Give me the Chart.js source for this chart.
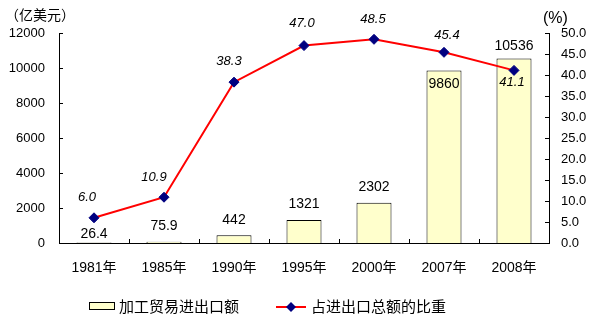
<!DOCTYPE html>
<html>
<head>
<meta charset="utf-8">
<script src="https://cdn.jsdelivr.net/npm/chart.js@4/dist/chart.umd.min.js"></script>
<style>
    html, body { margin: 0; padding: 0; background: #fff; }
    #wrap { position: relative; width: 601px; height: 328px; }
</style>
</head>
<body>
<div id="wrap"><canvas id="tradeChart" width="601" height="328"></canvas></div>
<script>
const years = ['1981年', '1985年', '1990年', '1995年', '2000年', '2007年', '2008年'];
const tradeValues = [26.4, 75.9, 442, 1321, 2302, 9860, 10536];   // 亿美元
const shareValues = [6.0, 10.9, 38.3, 47.0, 48.5, 45.4, 41.1];    // %
const leftTicks = [0, 2000, 4000, 6000, 8000, 10000, 12000];
const rightTicks = [0, 5, 10, 15, 20, 25, 30, 35, 40, 45, 50];
const barLabel = '加工贸易进出口额';
const lineLabel = '占进出口总额的比重';

const FONT = '"Liberation Sans", "Noto Sans CJK SC", sans-serif';
const CJK = '"Noto Sans CJK SC", sans-serif';

// label nudges (px) for each point, so text clears the line and bars
const barLabelDy = [-8, -16, -15, -16, -16, 14, -12];
const lineLabelOffset = [[-7, -20], [-10, -20], [-5, -21], [-2, -22], [-1, -20], [3, -17], [-2, 12]];

const inwardTicks = {
    id: 'inwardTicks',
    afterDraw(chart) {
        const ctx = chart.ctx;
        const area = chart.chartArea;
        const len = 4;
        ctx.save();
        ctx.strokeStyle = '#000';
        ctx.lineWidth = 1;
        ctx.beginPath();
        const y = chart.scales.y;
        y.ticks.forEach((t, i) => {
            const py = Math.round(y.getPixelForTick(i)) + 0.5;
            ctx.moveTo(area.left, py);
            ctx.lineTo(area.left + len, py);
        });
        const y1 = chart.scales.y1;
        y1.ticks.forEach((t, i) => {
            const py = Math.round(y1.getPixelForTick(i)) + 0.5;
            ctx.moveTo(area.right, py);
            ctx.lineTo(area.right - len, py);
        });
        const x = chart.scales.x;
        const step = (x.right - x.left) / years.length;
        for (let i = 1; i < years.length; i++) {
            const px = Math.round(x.left + step * i) + 0.5;
            ctx.moveTo(px, area.bottom);
            ctx.lineTo(px, area.bottom - len);
        }
        ctx.stroke();
        ctx.restore();
    }
};

const valueLabels = {
    id: 'valueLabels',
    afterDatasetsDraw(chart) {
        const ctx = chart.ctx;
        ctx.save();
        ctx.fillStyle = '#000';
        ctx.textAlign = 'center';
        ctx.textBaseline = 'middle';

        ctx.font = '14px ' + FONT;
        chart.getDatasetMeta(0).data.forEach((bar, i) => {
            ctx.fillText(String(tradeValues[i]), bar.x, bar.y + barLabelDy[i]);
        });

        ctx.font = 'italic 13px ' + FONT;
        chart.getDatasetMeta(1).data.forEach((pt, i) => {
            const [dx, dy] = lineLabelOffset[i];
            ctx.fillText(shareValues[i].toFixed(1), pt.x + dx, pt.y + dy);
        });
        ctx.restore();
    }
};

const extras = {
    id: 'extras',
    afterDraw(chart) {
        const ctx = chart.ctx;
        ctx.save();
        ctx.fillStyle = '#000';
        ctx.textBaseline = 'middle';

        // axis units
        ctx.font = '14px ' + CJK;
        ctx.textAlign = 'left';
        ctx.fillText('（亿美元）', 5, 15);
        ctx.font = '16px ' + FONT;
        ctx.fillText('(%)', 543, 19);

        // legend
        const ly = 306;
        ctx.fillStyle = '#FFFFCC';
        ctx.fillRect(89, 303, 25, 6);
        ctx.strokeStyle = '#000';
        ctx.lineWidth = 1;
        ctx.strokeRect(89.5, 302.5, 25, 7);
        ctx.fillStyle = '#000';
        ctx.font = '15px ' + CJK;
        ctx.fillText(barLabel, 119, ly);

        ctx.strokeStyle = '#FF0000';
        ctx.lineWidth = 2;
        ctx.beginPath();
        ctx.moveTo(276, ly + 1);
        ctx.lineTo(306, ly + 1);
        ctx.stroke();
        ctx.fillStyle = '#000080';
        ctx.beginPath();
        ctx.moveTo(291, ly + 1 - 5);
        ctx.lineTo(296, ly + 1);
        ctx.lineTo(291, ly + 1 + 5);
        ctx.lineTo(286, ly + 1);
        ctx.closePath();
        ctx.fill();
        ctx.fillStyle = '#000';
        ctx.fillText(lineLabel, 311, ly);
        ctx.restore();
    }
};

new Chart(document.getElementById('tradeChart'), {
    data: {
        labels: years,
        datasets: [
            {
                type: 'bar',
                label: barLabel,
                data: tradeValues,
                yAxisID: 'y',
                backgroundColor: '#FFFFCC',
                borderColor: '#000',
                borderWidth: 1,
                barPercentage: 0.5,
                categoryPercentage: 1,
                order: 2
            },
            {
                type: 'line',
                label: lineLabel,
                data: shareValues,
                yAxisID: 'y1',
                borderColor: '#FF0000',
                borderWidth: 2,
                tension: 0,
                pointStyle: 'rectRot',
                pointRadius: 5,
                pointBackgroundColor: '#000080',
                pointBorderColor: '#000080',
                pointBorderWidth: 1,
                order: 1
            }
        ]
    },
    options: {
        responsive: false,
        animation: false,
        devicePixelRatio: 1,
        layout: { padding: { top: 33, left: 0, right: 0, bottom: 0 } },
        plugins: {
            legend: { display: false },
            tooltip: { enabled: false }
        },
        scales: {
            x: {
                offset: true,
                grid: { display: false, drawTicks: false },
                border: { display: true, color: '#000', width: 1 },
                ticks: { color: '#000', font: { family: FONT, size: 14 }, padding: 17, maxRotation: 0 },
                afterFit(scale) { scale.height = 85; }
            },
            y: {
                position: 'left',
                min: 0,
                max: 12000,
                grid: { display: false, drawTicks: false },
                border: { display: true, color: '#000', width: 1 },
                afterBuildTicks(scale) { scale.ticks = leftTicks.map(v => ({ value: v })); },
                ticks: {
                    color: '#000',
                    font: { family: FONT, size: 13 },
                    padding: 14,
                    callback: v => String(v)
                },
                afterFit(scale) { scale.width = 59; }
            },
            y1: {
                position: 'right',
                min: 0,
                max: 50,
                grid: { display: false, drawTicks: false },
                border: { display: true, color: '#000', width: 1 },
                afterBuildTicks(scale) { scale.ticks = rightTicks.map(v => ({ value: v })); },
                ticks: {
                    color: '#000',
                    font: { family: FONT, size: 13 },
                    padding: 12,
                    callback: v => Number(v).toFixed(1)
                },
                afterFit(scale) { scale.width = 52; }
            }
        }
    },
    plugins: [inwardTicks, valueLabels, extras]
});
</script>
</body>
</html>
